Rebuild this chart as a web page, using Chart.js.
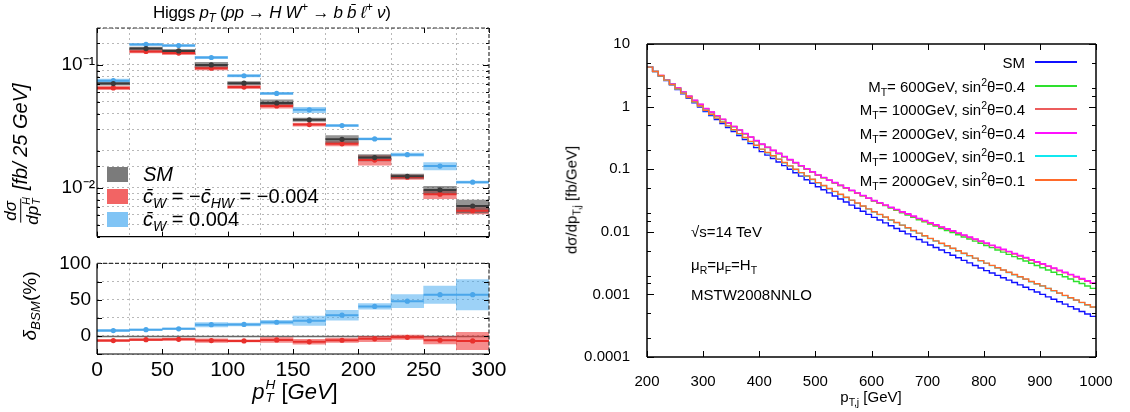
<!DOCTYPE html>
<html>
<head>
<meta charset="utf-8">
<title>Higgs pT / top partner pT,j</title>
<script src="https://cdn.jsdelivr.net/npm/chart.js@4.4.1/dist/chart.umd.min.js"></script>
<style>
  html, body { margin: 0; padding: 0; background: #fff; }
  body { width: 1130px; height: 412px; position: relative; overflow: hidden;
         font-family: "Liberation Sans", Arial, Helvetica, sans-serif; color: #000; }
  .pane { position: absolute; }
  .txt { position: absolute; white-space: nowrap; line-height: 1; }
  .rot { transform: translate(-50%, -50%) rotate(-90deg); }
  .ctr { transform: translate(-50%, -50%); }
  sub, sup { font-size: 0.7em; line-height: 0; }
  .ss { display: inline-flex; flex-direction: column; font-size: 0.62em; line-height: 0.95;
        vertical-align: 0.75em; margin-left: 1px; }
  .frac { display: inline-flex; flex-direction: column; align-items: center; vertical-align: middle;
          font-size: 0.85em; line-height: 1.05; margin-right: 7px; }
  .frac > span:first-child { border-bottom: 1px solid #000; padding: 0 2px; }
  .lrow { position: absolute; left: 107px; height: 16px; display: flex; align-items: center; font-size: 20px; }
  .lrow .sw { width: 21px; height: 15px; margin-right: 15px; flex: none; }
  .rrow { position: absolute; right: 53px; height: 20px; display: flex; align-items: center;
          justify-content: flex-end; font-size: 15px; }
  .rrow .ln { width: 42px; height: 1.5px; margin-left: 10px; flex: none; }
</style>
</head>
<body>

<div class="pane" style="left:0;top:0;width:540px;height:250px"><canvas id="hTop"></canvas></div>
<div class="pane" style="left:0;top:246px;width:540px;height:166px"><canvas id="hRatio"></canvas></div>
<div class="pane" style="left:560px;top:0;width:570px;height:412px"><canvas id="tPt"></canvas></div>

<!-- left panel texts -->
<div class="txt" style="left:153px;top:4px;font-size:17px;letter-spacing:-0.3px">Higgs <i>p<sub>T</sub></i> (<i>pp</i> &rarr; <i>H W</i><sup>+</sup> &rarr; <i>b b&#772; &#8467;</i><sup>+</sup> <i>&nu;</i>)</div>
<div class="txt rot" style="left:22px;top:154px;font-size:20px;font-style:italic"><span class="frac"><span>d&sigma;</span><span>dp<span class="ss"><span>H</span><span>T</span></span></span></span>[fb/ 25 GeV]</div>
<div class="txt rot" style="left:29px;top:306px;font-size:19px"><i>&delta;<sub>BSM</sub></i>(%)</div>
<div class="txt ctr" style="left:295px;top:392px;font-size:22px"><i>p<span class="ss"><span>H</span><span>T</span></span></i> [<i>GeV</i>]</div>

<div class="lrow" style="top:166px"><span class="sw" style="background:#7b7b7b"></span><span><i>SM</i></span></div>
<div class="lrow" style="top:188px"><span class="sw" style="background:#f26464"></span><span><i>c&#772;<sub>W</sub></i> = &minus;<i>c&#772;<sub>HW</sub></i> = &minus;0.004</span></div>
<div class="lrow" style="top:211px"><span class="sw" style="background:#80c4f5"></span><span><i>c&#772;<sub>W</sub></i> = 0.004</span></div>

<!-- right panel texts -->
<div class="txt rot" style="left:571px;top:200px;font-size:15px">d&sigma;/dp<sub>T,j</sub> [fb/GeV]</div>
<div class="txt ctr" style="left:871px;top:396px;font-size:15px">p<sub>T,j</sub> [GeV]</div>
<div class="txt" style="left:691px;top:224px;font-size:15px">&radic;s=14 TeV</div>
<div class="txt" style="left:691px;top:257px;font-size:15px">&mu;<sub>R</sub>=&mu;<sub>F</sub>=H<sub>T</sub></div>
<div class="txt" style="left:691px;top:287px;font-size:15px">MSTW2008NNLO</div>

<div class="rrow" style="top:52px"><span>SM</span><span class="ln" style="background:#1010ff"></span></div>
<div class="rrow" style="top:76px"><span>M<sub>T</sub>= 600GeV, sin<sup>2</sup>&theta;=0.4</span><span class="ln" style="background:#2ee02e"></span></div>
<div class="rrow" style="top:99px"><span>M<sub>T</sub>= 1000GeV, sin<sup>2</sup>&theta;=0.4</span><span class="ln" style="background:#ec5c5c"></span></div>
<div class="rrow" style="top:123px"><span>M<sub>T</sub>= 2000GeV, sin<sup>2</sup>&theta;=0.4</span><span class="ln" style="background:#ff10ff"></span></div>
<div class="rrow" style="top:146px"><span>M<sub>T</sub>= 1000GeV, sin<sup>2</sup>&theta;=0.1</span><span class="ln" style="background:#10e8f0"></span></div>
<div class="rrow" style="top:170px"><span>M<sub>T</sub>= 2000GeV, sin<sup>2</sup>&theta;=0.1</span><span class="ln" style="background:#ff6a2a"></span></div>

<script>
// Higgs pT, 25 GeV bins (left panel)
const ptHEdges = [0, 25, 50, 75, 100, 125, 150, 175, 200, 225, 250, 275, 300];
const smXsec   = [0.0705, 0.136, 0.130, 0.100, 0.071, 0.049, 0.0358, 0.0248, 0.0176, 0.0124, 0.0096, 0.0071];
const smErr    = [0.03, 0.03, 0.03, 0.05, 0.03, 0.06, 0.03, 0.07, 0.06, 0.04, 0.07, 0.12];   // relative
const cwhwXsec = [0.065, 0.129, 0.125, 0.094, 0.066, 0.0464, 0.0327, 0.0228, 0.0168, 0.0122, 0.00885, 0.00651];
const cwhwErr  = [0.03, 0.03, 0.03, 0.03, 0.03, 0.04, 0.03, 0.04, 0.09, 0.04, 0.08, 0.06];
const cwXsec   = [0.0745, 0.147, 0.144, 0.115, 0.0817, 0.0586, 0.0431, 0.0321, 0.025, 0.0186, 0.015, 0.0111];
const cwErr    = [0.03, 0.02, 0.02, 0.02, 0.02, 0.02, 0.05, 0.02, 0.02, 0.03, 0.07, 0.02];

// delta_BSM in %
const cwDelta      = [7.3, 8.5, 9.8, 15.4, 15.8, 18.8, 20.9, 28.6, 40.6, 47.9, 56.8, 56.8];
const cwDeltaErr   = [1.5, 1, 1, 3, 2, 2.5, 6.5, 6.8, 3.8, 9, 12, 21];
const cwhwDelta    = [-6.5, -5.2, -4.7, -6.5, -6.9, -5.6, -8.2, -6, -4, -2, -6, -7];
const cwhwDeltaErr = [1.5, 1.5, 1.5, 2.5, 1.5, 3.4, 3.4, 3, 4, 3, 5, 12];

// top partner pT,j, 10 GeV bins (right panel), fb/GeV
const ptjEdges = [200, 210, 220, 230, 240, 250, 260, 270, 280, 290, 300, 310, 320, 330, 340, 350, 360, 370, 380, 390,
  400, 410, 420, 430, 440, 450, 460, 470, 480, 490, 500, 510, 520, 530, 540, 550, 560, 570, 580, 590,
  600, 610, 620, 630, 640, 650, 660, 670, 680, 690, 700, 710, 720, 730, 740, 750, 760, 770, 780, 790,
  800, 810, 820, 830, 840, 850, 860, 870, 880, 890, 900, 910, 920, 930, 940, 950, 960, 970, 980, 990, 1000];
const xsSM = [4.27, 3.62, 3.08, 2.61, 2.22, 1.88, 1.60, 1.36, 1.15, 0.980,
  0.832, 0.718, 0.620, 0.535, 0.461, 0.398, 0.344, 0.297, 0.256, 0.221,
  0.191, 0.168, 0.148, 0.130, 0.114, 0.100, 0.0880, 0.0774, 0.0680, 0.0598,
  0.0525, 0.0469, 0.0419, 0.0374, 0.0334, 0.0299, 0.0267, 0.0238, 0.0213, 0.0190,
  0.0170, 0.0154, 0.0139, 0.0125, 0.0113, 0.0102, 0.00925, 0.00836, 0.00755, 0.00683,
  0.00617, 0.00561, 0.00511, 0.00465, 0.00423, 0.00385, 0.00350, 0.00319, 0.00290, 0.00264,
  0.00240, 0.00220, 0.00201, 0.00185, 0.00169, 0.00155, 0.00142, 0.00130, 0.00119, 0.00109,
  0.00100, 0.000914, 0.000836, 0.000764, 0.000698, 0.000638, 0.000583, 0.000533, 0.000487, 0.000446];
const xsT600s04 = [4.27, 3.65, 3.12, 2.67, 2.29, 1.96, 1.69, 1.45, 1.24, 1.07,
  0.920, 0.807, 0.707, 0.620, 0.544, 0.477, 0.419, 0.367, 0.322, 0.283,
  0.248, 0.222, 0.198, 0.177, 0.158, 0.141, 0.126, 0.112, 0.100, 0.0897,
  0.0801, 0.0729, 0.0663, 0.0603, 0.0549, 0.0500, 0.0455, 0.0413, 0.0376, 0.0342,
  0.0311, 0.0285, 0.0262, 0.0240, 0.0220, 0.0201, 0.0186, 0.0171, 0.0156, 0.0144,
  0.0133, 0.0123, 0.0113, 0.0105, 0.00972, 0.00896, 0.00828, 0.00767, 0.00709, 0.00656,
  0.00605, 0.00558, 0.00512, 0.00474, 0.00436, 0.00402, 0.00371, 0.00341, 0.00314, 0.00290,
  0.00267, 0.00246, 0.00226, 0.00207, 0.00191, 0.00176, 0.00161, 0.00149, 0.00136, 0.00125];
const xsT1000s04 = [4.27, 3.66, 3.14, 2.69, 2.31, 1.98, 1.70, 1.46, 1.25, 1.08,
  0.926, 0.812, 0.712, 0.625, 0.547, 0.480, 0.421, 0.369, 0.324, 0.284,
  0.249, 0.223, 0.199, 0.178, 0.158, 0.141, 0.126, 0.113, 0.101, 0.0900,
  0.0803, 0.0731, 0.0664, 0.0604, 0.0549, 0.0501, 0.0455, 0.0413, 0.0376, 0.0342,
  0.0312, 0.0287, 0.0264, 0.0243, 0.0224, 0.0205, 0.0190, 0.0175, 0.0161, 0.0149,
  0.0137, 0.0127, 0.0118, 0.0110, 0.0102, 0.00942, 0.00873, 0.00811, 0.00753, 0.00699,
  0.00648, 0.00601, 0.00555, 0.00516, 0.00477, 0.00443, 0.00411, 0.00380, 0.00352, 0.00326,
  0.00303, 0.00280, 0.00259, 0.00239, 0.00221, 0.00205, 0.00189, 0.00175, 0.00162, 0.00150];
const xsT2000s04 = [4.27, 3.66, 3.15, 2.70, 2.32, 1.99, 1.71, 1.47, 1.26, 1.09,
  0.933, 0.819, 0.718, 0.630, 0.552, 0.484, 0.425, 0.373, 0.327, 0.287,
  0.252, 0.225, 0.201, 0.180, 0.160, 0.143, 0.128, 0.114, 0.102, 0.0911,
  0.0813, 0.0740, 0.0673, 0.0612, 0.0557, 0.0508, 0.0462, 0.0419, 0.0382, 0.0347,
  0.0317, 0.0292, 0.0269, 0.0247, 0.0228, 0.0209, 0.0194, 0.0179, 0.0164, 0.0152,
  0.0140, 0.0130, 0.0120, 0.0112, 0.0104, 0.00961, 0.00891, 0.00828, 0.00768, 0.00713,
  0.00661, 0.00613, 0.00566, 0.00527, 0.00487, 0.00452, 0.00419, 0.00388, 0.00359, 0.00333,
  0.00309, 0.00286, 0.00264, 0.00244, 0.00226, 0.00209, 0.00193, 0.00179, 0.00165, 0.00153];
const xsT1000s01 = [4.27, 3.63, 3.10, 2.64, 2.25, 1.91, 1.63, 1.39, 1.18, 1.01,
  0.864, 0.748, 0.649, 0.563, 0.487, 0.423, 0.366, 0.318, 0.275, 0.239,
  0.207, 0.183, 0.162, 0.144, 0.127, 0.112, 0.0989, 0.0874, 0.0773, 0.0684,
  0.0604, 0.0543, 0.0487, 0.0438, 0.0393, 0.0353, 0.0318, 0.0285, 0.0256, 0.0230,
  0.0207, 0.0188, 0.0170, 0.0153, 0.0140, 0.0127, 0.0115, 0.0104, 0.00944, 0.00858,
  0.00778, 0.00710, 0.00648, 0.00592, 0.00541, 0.00494, 0.00450, 0.00412, 0.00376, 0.00344,
  0.00313, 0.00288, 0.00264, 0.00244, 0.00224, 0.00206, 0.00189, 0.00174, 0.00159, 0.00147,
  0.00136, 0.00124, 0.00114, 0.00104, 0.000956, 0.000877, 0.000805, 0.000738, 0.000676, 0.000622];
const xsT2000s01 = [4.27, 3.64, 3.11, 2.65, 2.26, 1.92, 1.64, 1.40, 1.19, 1.02,
  0.871, 0.755, 0.655, 0.568, 0.492, 0.427, 0.370, 0.321, 0.278, 0.241,
  0.209, 0.185, 0.164, 0.145, 0.128, 0.113, 0.0999, 0.0883, 0.0781, 0.0691,
  0.0610, 0.0548, 0.0492, 0.0442, 0.0397, 0.0357, 0.0321, 0.0288, 0.0259, 0.0232,
  0.0209, 0.0190, 0.0172, 0.0155, 0.0141, 0.0128, 0.0116, 0.0105, 0.00954, 0.00867,
  0.00786, 0.00717, 0.00655, 0.00598, 0.00546, 0.00499, 0.00455, 0.00416, 0.00380, 0.00347,
  0.00316, 0.00291, 0.00267, 0.00246, 0.00226, 0.00208, 0.00191, 0.00176, 0.00161, 0.00148,
  0.00137, 0.00125, 0.00115, 0.00105, 0.000966, 0.000886, 0.000813, 0.000745, 0.000683, 0.000628];

Chart.defaults.font.family = '"Liberation Sans", Arial, Helvetica, sans-serif';
Chart.defaults.color = '#000';
Chart.defaults.animation = false;

const SUP = { '-': '\u207B', '0': '\u2070', '1': '\u00B9', '2': '\u00B2', '3': '\u00B3' };
const isPow10 = v => { const e = Math.log10(v); return Math.abs(e - Math.round(e)) < 1e-6; };
const mantissa = v => Math.round(v / Math.pow(10, Math.floor(Math.log10(v) + 1e-9)));

// gnuplot-like frame: ticks inside on all four sides
const frame = {
  id: 'frame',
  beforeDatasetsDraw(chart, args, o) {
    if (!o.zeroLine) return;
    const { ctx, chartArea: a } = chart;
    const py = Math.round(chart.scales.y.getPixelForValue(0)) + 0.5;
    ctx.save();
    ctx.strokeStyle = '#666';
    ctx.lineWidth = 1.5;
    ctx.beginPath(); ctx.moveTo(a.left, py); ctx.lineTo(a.right, py); ctx.stroke();
    ctx.restore();
  },
  afterDraw(chart, args, o) {
    if (!o.on) return;
    const { ctx, chartArea: a } = chart;
    const xs = chart.scales.x, ys = chart.scales.y;
    const seg = (x1, y1, x2, y2) => { ctx.beginPath(); ctx.moveTo(x1, y1); ctx.lineTo(x2, y2); ctx.stroke(); };
    ctx.save();
    ctx.strokeStyle = '#000';
    ctx.lineWidth = 1;
    xs.ticks.forEach(t => {
      const px = Math.round(xs.getPixelForValue(t.value)) + 0.5;
      seg(px, a.bottom, px, a.bottom - o.xLen);
      seg(px, a.top, px, a.top + o.xLen);
    });
    ys.ticks.forEach(t => {
      const major = ys.type !== 'logarithmic' || isPow10(t.value);
      if (!major && o.minorSet && !o.minorSet.includes(mantissa(t.value))) return;
      const len = major ? o.yMajor : o.yMinor;
      const py = Math.round(ys.getPixelForValue(t.value)) + 0.5;
      seg(a.left, py, a.left + len, py);
      seg(a.right, py, a.right - len, py);
    });
    ctx.lineWidth = o.frameWidth || 1.2;
    seg(a.left, a.top, a.left, a.bottom);
    seg(a.left, a.bottom, a.right, a.bottom);
    if (o.dashTop) { ctx.strokeStyle = '#333'; ctx.setLineDash([4, 2]); }
    seg(a.left, a.top, a.right, a.top);
    seg(a.right, a.top, a.right, a.bottom);
    ctx.restore();
  }
};
Chart.register(frame);

const centers = ptHEdges.slice(0, -1).map((e, i) => (e + ptHEdges[i + 1]) / 2);

function histSet(vals, errs, rel, lineCol, bandCol) {
  const band = {
    type: 'bar', grouped: false, barPercentage: 1, categoryPercentage: 1, borderWidth: 0,
    backgroundColor: bandCol, order: 10,
    data: vals.map((v, i) => ({ x: centers[i], y: rel ? [v * (1 - errs[i]), v * (1 + errs[i])] : [v - errs[i], v + errs[i]] }))
  };
  const segPts = [];
  vals.forEach((v, i) => segPts.push({ x: ptHEdges[i], y: v }, { x: ptHEdges[i + 1], y: v }, { x: ptHEdges[i + 1], y: null }));
  const line = { type: 'line', data: segPts, borderColor: lineCol, borderWidth: 2, pointRadius: 0, spanGaps: false, order: 5 };
  const dots = { type: 'line', data: vals.map((v, i) => ({ x: centers[i], y: v })), showLine: false,
    pointRadius: 2.6, pointBackgroundColor: lineCol, pointBorderWidth: 0, order: 1 };
  return [band, line, dots];
}

const SM_LINE = '#3a3a3a', SM_BAND = 'rgba(60,60,60,0.55)';
const RED_LINE = '#e8302c', RED_BAND = 'rgba(238,45,45,0.55)';
const BLUE_LINE = '#4aa6ea', BLUE_BAND = 'rgba(60,165,240,0.5)';

const dottedGrid = { color: 'rgba(0,0,0,0.28)', lineWidth: 1, drawTicks: false };

new Chart(document.getElementById('hTop'), {
  type: 'bar',
  data: { datasets: [
    ...histSet(smXsec, smErr, true, SM_LINE, SM_BAND),
    ...histSet(cwhwXsec, cwhwErr, true, RED_LINE, RED_BAND),
    ...histSet(cwXsec, cwErr, true, BLUE_LINE, BLUE_BAND)
  ] },
  options: {
    responsive: true, maintainAspectRatio: false,
    layout: { padding: { top: 28, right: 51, left: 0, bottom: 0 } },
    plugins: { legend: { display: false }, tooltip: { enabled: false },
      frame: { on: true, xLen: 5, yMajor: 6, yMinor: 3, dashTop: true } },
    scales: {
      x: { type: 'linear', min: 0, max: 300, offset: false,
        ticks: { display: false, stepSize: 50 }, grid: dottedGrid, border: { display: false, dash: [2, 3] },
        afterFit: s => { s.height = 11; } },
      y: { type: 'logarithmic', min: 0.004, max: 0.2,
        ticks: { autoSkip: false, padding: 2, font: { size: 19 },
          callback: v => isPow10(v) ? '10' + String(Math.round(Math.log10(v))).split('').map(c => SUP[c]).join('') : '' },
        grid: dottedGrid, border: { display: false, dash: [2, 3] },
        afterFit: s => { s.width = 97; } }
    }
  }
});

new Chart(document.getElementById('hRatio'), {
  type: 'bar',
  data: { datasets: [
    ...histSet(cwhwDelta, cwhwDeltaErr, false, RED_LINE, RED_BAND),
    ...histSet(cwDelta, cwDeltaErr, false, BLUE_LINE, BLUE_BAND)
  ] },
  options: {
    responsive: true, maintainAspectRatio: false,
    layout: { padding: { top: 12, right: 51, left: 0, bottom: 0 } },
    plugins: { legend: { display: false }, tooltip: { enabled: false },
      frame: { on: true, xLen: 5, yMajor: 5, yMinor: 5, dashTop: true, zeroLine: true } },
    scales: {
      x: { type: 'linear', min: 0, max: 300, offset: false,
        ticks: { stepSize: 50, padding: 4, maxRotation: 0, font: { size: 21 } },
        grid: dottedGrid, border: { display: false, dash: [2, 3] },
        afterFit: s => { s.height = 58; } },
      y: { type: 'linear', min: -25, max: 100,
        ticks: { stepSize: 25, autoSkip: false, padding: 6, font: { size: 19 },
          callback: v => (v % 50 === 0 ? String(v) : '') },
        grid: dottedGrid, border: { display: false, dash: [2, 3] },
        afterFit: s => { s.width = 97; } }
    }
  }
});

function stepSeries(vals, color, order) {
  return { data: ptjEdges.map((x, i) => ({ x, y: vals[Math.min(i, vals.length - 1)] })),
    stepped: true, borderColor: color, borderWidth: 1.4, pointRadius: 0, fill: false, order };
}

new Chart(document.getElementById('tPt'), {
  type: 'line',
  data: { datasets: [
    stepSeries(xsSM, '#1010ff', 6),
    stepSeries(xsT600s04, '#2ee02e', 5),
    stepSeries(xsT1000s04, '#ec5c5c', 4),
    stepSeries(xsT2000s04, '#ff10ff', 3),
    stepSeries(xsT1000s01, '#10e8f0', 2),
    stepSeries(xsT2000s01, '#ff6a2a', 1)
  ] },
  options: {
    responsive: true, maintainAspectRatio: false,
    layout: { padding: { top: 44, right: 34, left: 0, bottom: 0 } },
    plugins: { legend: { display: false }, tooltip: { enabled: false },
      frame: { on: true, xLen: 6, yMajor: 7, yMinor: 4, minorSet: [2, 5], frameWidth: 1.5 } },
    scales: {
      x: { type: 'linear', min: 200, max: 1000,
        ticks: { stepSize: 100, padding: 8, maxRotation: 0, font: { size: 15 }, callback: v => String(v) },
        grid: { display: false }, border: { display: false },
        afterFit: s => { s.height = 55; } },
      y: { type: 'logarithmic', min: 0.0001, max: 10,
        ticks: { autoSkip: false, padding: 9, font: { size: 15 },
          callback: v => { if (!isPow10(v)) return ''; const e = Math.round(Math.log10(v)); return e >= 0 ? String(Math.pow(10, e)) : v.toFixed(-e); } },
        grid: { display: false }, border: { display: false },
        afterFit: s => { s.width = 87; } }
    }
  }
});
</script>
</body>
</html>
